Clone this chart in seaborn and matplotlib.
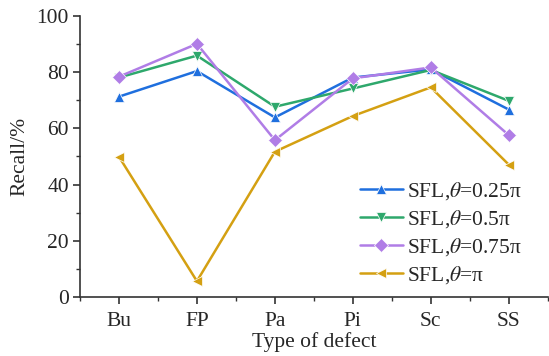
import matplotlib
matplotlib.use("Agg")
import matplotlib.pyplot as plt
from matplotlib.ticker import MultipleLocator
import seaborn as sns
import pandas as pd

categories = ["Bu", "FP", "Pa", "Pi", "Sc", "SS"]
series_names = [r"SFL,$\theta$=0.25π", r"SFL,$\theta$=0.5π", r"SFL,$\theta$=0.75π", r"SFL,$\theta$=π"]
recall_025 = [71.3, 80.4, 63.9, 78.1, 81.0, 66.7]
recall_05 = [78.1, 85.9, 67.7, 74.2, 80.8, 69.8]
recall_075 = [78.4, 90.1, 55.8, 77.8, 81.7, 57.6]
recall_1 = [49.9, 5.6, 51.7, 64.4, 74.6, 47.1]

colors = ["#1f6fde", "#2ea86c", "#b07de6", "#d4a012"]
markers = ["^", "v", "D", "<"]

rows = []
for name, vals in zip(series_names, [recall_025, recall_05, recall_075, recall_1]):
    for i, (c, v) in enumerate(zip(categories, vals)):
        rows.append({"x": i, "cat": c, "Recall": v, "series": name})
df = pd.DataFrame(rows)

sns.set_theme(style="ticks")
plt.rcParams["font.family"] = ["Liberation Serif", "DejaVu Serif"]
plt.rcParams["mathtext.fontset"] = "stix"

fig = plt.figure(figsize=(5.49, 3.56), dpi=100)
ax = fig.add_axes([0.1457, 0.166, 0.852, 0.789])

sns.lineplot(data=df, x="x", y="Recall", hue="series", style="series",
             palette=colors, markers=markers, dashes=False, markersize=7,
             markeredgewidth=0.5, linewidth=1.8, ax=ax)

ax.set_xlim(-0.5, 5.5)
ax.set_ylim(0, 100)
ax.set_xticks(range(len(categories)))
ax.set_xticklabels(categories)
ax.xaxis.set_minor_locator(MultipleLocator(0.5))
ax.yaxis.set_major_locator(MultipleLocator(20))
ax.yaxis.set_minor_locator(MultipleLocator(10))
for s in ["top", "right"]:
    ax.spines[s].set_visible(False)
for s in ["left", "bottom"]:
    ax.spines[s].set_color("#333333")
    ax.spines[s].set_linewidth(1.2)
ax.tick_params(which="major", direction="out", length=5, width=1.2, labelsize=15.5, color="#333333")
ax.tick_params(axis="x", which="major", pad=6)
ax.tick_params(axis="y", which="major", pad=3)
ax.tick_params(which="minor", direction="out", length=3, width=1.0, color="#333333")
ax.set_xlabel("Type of defect", fontsize=15.5, labelpad=1)
ax.set_ylabel("Recall/%", fontsize=15.5, labelpad=5)

leg = ax.legend(loc="lower right", bbox_to_anchor=(0.968, 0.0), frameon=False,
                fontsize=15.5, handlelength=2.0, handletextpad=0.2, labelspacing=0.28,
                borderaxespad=0.1)

fig.savefig("out.png", dpi=100)
